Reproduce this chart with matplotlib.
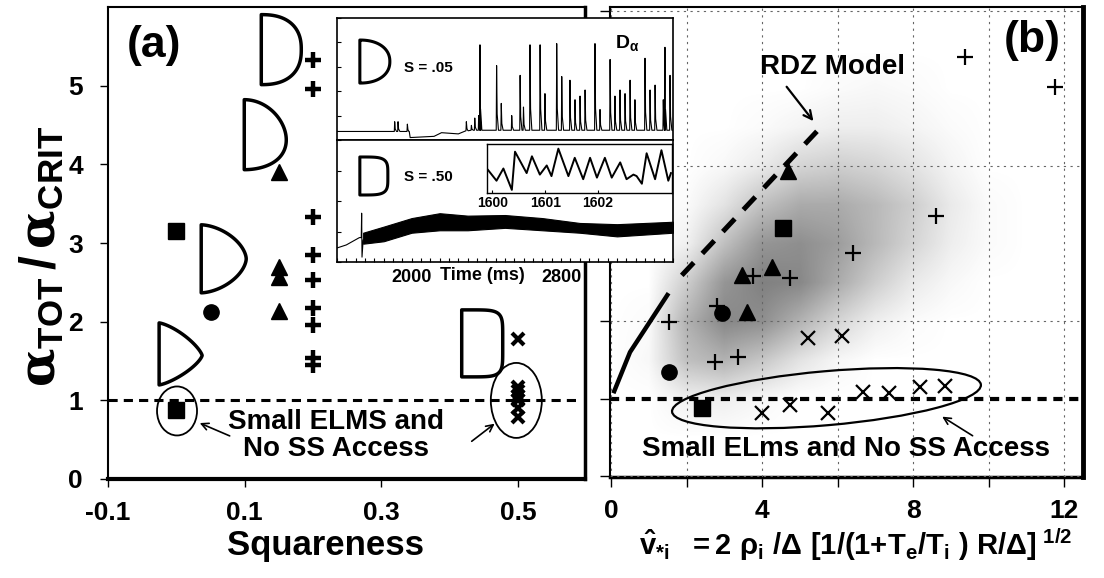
import numpy as np
import matplotlib
matplotlib.use('Agg')
import matplotlib.pyplot as plt
from matplotlib.patches import Ellipse, Polygon
from matplotlib.transforms import ScaledTranslation
from matplotlib.colors import LinearSegmentedColormap
from matplotlib.ticker import MultipleLocator, NullFormatter

plt.rcParams['font.family'] = ['Liberation Sans', 'DejaVu Sans']
plt.rcParams['font.weight'] = 'bold'
plt.rcParams['axes.unicode_minus'] = False
plt.rcParams['mathtext.fontset'] = 'custom'
plt.rcParams['mathtext.rm'] = 'Liberation Sans:bold'
plt.rcParams['mathtext.it'] = 'Liberation Sans:bold'
plt.rcParams['mathtext.bf'] = 'Liberation Sans:bold'
plt.rcParams['mathtext.sf'] = 'Liberation Sans:bold'
plt.rcParams['mathtext.tt'] = 'DejaVu Serif'

# ---------------- data: panel (a) ----------------
a_plus_x = [0.20] * 9
a_plus_y = [5.33, 4.96, 3.33, 2.85, 2.53, 2.17, 1.96, 1.54, 1.45]
a_tri_x = [0.15] * 4
a_tri_y = [3.90, 2.70, 2.57, 2.13]
a_sq_x = [0.0, 0.0]
a_sq_y = [3.15, 0.88]
a_circ_x = [0.05]
a_circ_y = [2.12]
a_x_x = [0.50] * 7
a_x_y = [1.78, 1.17, 1.12, 1.06, 1.00, 0.90, 0.79]
a_xticks = [-0.1, 0.1, 0.3, 0.5]
a_xticklabels = ['-0.1', '0.1', '0.3', '0.5']
a_yticks = [0, 1, 2, 3, 4, 5]

# ---------------- data: panel (b) ----------------
b_plus_x = [9.37, 11.75, 8.60, 6.40, 3.76, 4.74, 2.80, 1.53, 2.75, 3.36]
b_plus_y = [5.40, 5.02, 3.35, 2.88, 2.58, 2.55, 2.20, 1.99, 1.47, 1.54]
b_tri_x = [4.68, 4.26, 3.47, 3.60]
b_tri_y = [3.93, 2.70, 2.59, 2.12]
b_sq_x = [4.55, 2.40]
b_sq_y = [3.20, 0.88]
b_circ_x = [2.94, 1.53]
b_circ_y = [2.10, 1.34]
b_x_x = [5.20, 6.10, 4.00, 4.74, 5.74, 6.67, 7.35, 8.17, 8.84]
b_x_y = [1.78, 1.81, 0.81, 0.92, 0.81, 1.08, 1.07, 1.15, 1.16]
rdz_solid_x = [0.06, 0.50, 1.52]
rdz_solid_y = [1.07, 1.60, 2.36]
rdz_dash_x = [1.87, 5.53]
rdz_dash_y = [2.59, 4.49]
b_xticks = [0, 4, 8, 12]

# gray database cloud: density read on a grid (x = 0..11, y = 0.5..5.5)
cloud_x = [0, 1, 2, 3, 4, 5, 6, 7, 8, 9, 10, 11]
cloud_y = [0.5, 1.0, 1.5, 2.0, 2.5, 3.0, 3.5, 4.0, 4.5, 5.0, 5.5]
cloud = np.array([
    [0, 0.00, 0.00, 0.00, 0.00, 0.00, 0.00, 0.00, 0.00, 0.00, 0.00, 0],
    [0, 0.00, 0.10, 0.12, 0.05, 0.00, 0.00, 0.00, 0.00, 0.00, 0.00, 0],
    [0, 0.05, 0.45, 0.55, 0.40, 0.20, 0.06, 0.00, 0.00, 0.00, 0.00, 0],
    [0, 0.03, 0.55, 0.85, 0.80, 0.55, 0.30, 0.12, 0.03, 0.00, 0.00, 0],
    [0, 0.00, 0.35, 0.75, 0.90, 0.85, 0.60, 0.35, 0.15, 0.05, 0.00, 0],
    [0, 0.00, 0.10, 0.45, 0.75, 0.80, 0.70, 0.50, 0.30, 0.12, 0.03, 0],
    [0, 0.00, 0.03, 0.20, 0.45, 0.60, 0.60, 0.50, 0.35, 0.15, 0.03, 0],
    [0, 0.00, 0.00, 0.05, 0.15, 0.30, 0.35, 0.30, 0.20, 0.08, 0.00, 0],
    [0, 0.00, 0.00, 0.00, 0.03, 0.08, 0.12, 0.12, 0.08, 0.03, 0.00, 0],
    [0, 0.00, 0.00, 0.00, 0.00, 0.00, 0.03, 0.05, 0.03, 0.00, 0.00, 0],
    [0, 0.00, 0.00, 0.00, 0.00, 0.00, 0.00, 0.00, 0.00, 0.00, 0.00, 0],
])

# ---------------- data: inset D-alpha traces ----------------
elm_t = [1909, 1927, 1977, 2293, 2320, 2338, 2359, 2366, 2455, 2480, 2536, 2581,
         2599, 2634, 2688, 2714, 2777, 2804, 2848, 2875, 2902, 2929, 2982, 3009,
         3063, 3089, 3116, 3143, 3170, 3196, 3250, 3277, 3304, 3348, 3357, 3384]
elm_h = [0.15, 0.15, 0.13, 0.15, 0.12, 0.18, 0.20, 0.78, 0.61, 0.30, 0.20, 0.53,
         0.27, 0.78, 0.78, 0.38, 0.79, 0.52, 0.49, 0.33, 0.36, 0.41, 0.79, 0.25,
         0.66, 0.36, 0.41, 0.38, 0.49, 0.33, 0.67, 0.41, 0.45, 0.33, 0.76, 0.53]
base_t = [1600, 1985, 1992, 2120, 2160, 2250, 2300, 2400, 3400]
base_v = [0.07, 0.07, 0.02, 0.03, 0.06, 0.05, 0.08, 0.08, 0.08]

band_t = [1740, 1850, 2000, 2150, 2300, 2500, 2700, 2900, 3100, 3400]
band_hi = [0.24, 0.29, 0.36, 0.40, 0.38, 0.385, 0.36, 0.32, 0.31, 0.33]
band_lo = [0.15, 0.17, 0.24, 0.26, 0.26, 0.28, 0.26, 0.24, 0.21, 0.24]
pre_t = [1600, 1650, 1720, 1730, 1732, 1734, 1740]
pre_v = [0.115, 0.14, 0.20, 0.20, 0.40, 0.04, 0.18]

nest_t = [1599.92, 1600.08, 1600.21, 1600.37, 1600.43, 1600.65, 1600.75, 1600.90,
          1601.03, 1601.12, 1601.25, 1601.44, 1601.56, 1601.72, 1601.85, 1601.98,
          1602.13, 1602.26, 1602.42, 1602.54, 1602.67, 1602.73, 1602.83, 1602.92,
          1603.08, 1603.20, 1603.33, 1603.38]
nest_v = [0.466, 0.226, 0.50, 0.02, 0.877, 0.397, 0.774, 0.363, 0.568, 0.329,
          0.945, 0.329, 0.74, 0.26, 0.74, 0.295, 0.74, 0.295, 0.637, 0.26,
          0.363, 0.33, 0.158, 0.842, 0.26, 0.91, 0.226, 0.397]

# ---------------- figure ----------------
W, H = 1104, 578
fig = plt.figure(figsize=(W / 100, H / 100), dpi=100)
fig.patch.set_facecolor('white')

def fax(l, t, r, b, **kw):
    return fig.add_axes([l / W, 1 - b / H, (r - l) / W, (b - t) / H], **kw)

axA = fax(108, 7, 585, 479)
axB = fax(610, 7, 1083, 477)

def d_shape(ax, anchor, w, h, n, tri=0.0, lw=2.5, trans=None):
    th = np.linspace(np.pi / 2, -np.pi / 2, 120)
    c, s = np.cos(th), np.sin(th)
    x = w * np.abs(c) ** (2.0 / n)
    y = 0.5 * h * np.sign(s) * np.abs(s) ** (2.0 / n)
    y = y - tri * 0.5 * h * (x / w) ** 2
    pts = np.column_stack([x, y]) / 100.0
    base = trans if trans is not None else ax.transData
    tr = fig.dpi_scale_trans + ScaledTranslation(anchor[0], anchor[1], base)
    ax.add_patch(Polygon(pts, closed=True, fill=False, lw=lw, ec='k',
                         transform=tr, joinstyle='round', clip_on=False, zorder=4))

def ellipse(ax, center, w, h, angle=0.0, lw=1.3):
    tr = fig.dpi_scale_trans + ScaledTranslation(center[0], center[1], ax.transData)
    ax.add_patch(Ellipse((0, 0), w / 100, h / 100, angle=angle, fill=False,
                         lw=lw, ec='k', transform=tr, zorder=4))

# ---------------- panel (a) ----------------
axA.set_xlim(-0.1, 0.598)
axA.set_ylim(0, 6.0)
axA.axhline(1.0, xmin=0, xmax=0.985, color='k', lw=2.2, ls=(0, (3, 2)), zorder=2)
axA.plot(a_plus_x, a_plus_y, ls='none', marker='+', ms=11, mew=3.2, color='k', zorder=5)
axA.plot(a_tri_x, a_tri_y, ls='none', marker='^', ms=11, color='k', zorder=5)
axA.plot(a_sq_x, a_sq_y, ls='none', marker='s', ms=11, color='k', zorder=5)
axA.plot(a_circ_x, a_circ_y, ls='none', marker='o', ms=11, color='k', zorder=5)
axA.plot(a_x_x, a_x_y, ls='none', marker='x', ms=9, mew=3.0, color='k', zorder=5)

for anc, w, h, n, tri in [((0.1243, 5.458), 40, 70, 2.4, 0.0),
                          ((0.0994, 4.377), 42, 70, 2.0, 0.15),
                          ((0.0364, 2.799), 45, 68, 1.7, 0.0),
                          ((-0.0252, 1.590), 43, 62, 1.35, 0.05),
                          ((0.4176, 1.724), 41, 67, 6.0, 0.0)]:
    d_shape(axA, anc, w, h, n, tri)

ellipse(axA, (0.001, 0.865), 40, 49)
ellipse(axA, (0.4975, 0.999), 51, 75)
axA.annotate('', xy=(0.0305, 0.725), xytext=(0.0818, 0.534),
             arrowprops=dict(arrowstyle='->,head_length=0.5,head_width=0.25', lw=1.2, color='k'))
axA.annotate('', xy=(0.469, 0.725), xytext=(0.429, 0.458),
             arrowprops=dict(arrowstyle='->,head_length=0.5,head_width=0.25', lw=1.2, color='k'))
axA.text(0.234, 0.547, 'Small ELMS and\nNo SS Access', ha='center', va='center',
         fontsize=20, fontweight='bold', linespacing=1.05, zorder=6)
axA.text(0.096, 0.919, '(a)', transform=axA.transAxes, ha='center', va='center',
         fontsize=32, fontweight='bold')

axA.set_xticks(a_xticks)
axA.set_xticklabels(a_xticklabels)
axA.set_yticks(a_yticks)
axA.tick_params(direction='out', length=6, width=1, labelsize=19)
axA.tick_params(axis='x', pad=10)
axA.tick_params(axis='y', pad=12)
for lab in axA.get_xticklabels() + axA.get_yticklabels():
    lab.set_fontweight('bold')
for sp, lw in [('left', 1.5), ('top', 1.5), ('bottom', 3.0), ('right', 2.5)]:
    axA.spines[sp].set_linewidth(lw)

fig.text(326 / W, 1 - 545 / H, 'Squareness', ha='center', va='center',
         fontsize=25, fontweight='bold')
fig.text(42 / W, 1 - 256 / H,
         r'$\mathtt{\alpha}_{\mathrm{TOT}}\,/\,\mathtt{\alpha}_{\mathrm{CRIT}}$',
         rotation=90, ha='center', va='center', fontsize=36)

# ---------------- panel (b) ----------------
cmap = LinearSegmentedColormap.from_list('cloud', ['white', '0.45'])
axB.imshow(cloud, extent=[cloud_x[0] - 0.5, cloud_x[-1] + 0.5, cloud_y[0] - 0.25, cloud_y[-1] + 0.25],
           origin='lower', cmap=cmap, vmin=0, vmax=1, interpolation='bilinear',
           aspect='auto', zorder=0.5)
axB.set_xlim(-0.03, 12.49)
axB.set_ylim(-0.01, 6.05)
axB.set_xticks(b_xticks)
axB.xaxis.set_minor_locator(MultipleLocator(2))
axB.set_yticks([0, 2, 4, 6])
axB.yaxis.set_minor_locator(MultipleLocator(1))
axB.set_yticklabels([])
axB.grid(True, which='both', axis='x', color='0.4', lw=0.8, ls=(0, (2, 4)))
axB.grid(True, which='major', axis='y', color='0.4', lw=0.8, ls=(0, (2, 4)))
axB.set_axisbelow(False)
axB.tick_params(which='both', direction='out', length=7, width=1, labelsize=19, pad=9)
for lab in axB.get_xticklabels():
    lab.set_fontweight('bold')
for sp, lw in [('left', 1.5), ('top', 1.5), ('bottom', 2.5), ('right', 3.5)]:
    axB.spines[sp].set_linewidth(lw)

axB.axhline(1.0, color='k', lw=3.0, ls=(0, (2.2, 1.6)), zorder=2)
axB.plot(rdz_solid_x, rdz_solid_y, color='k', lw=3.2, solid_capstyle='butt', zorder=3)
axB.plot(rdz_dash_x, rdz_dash_y, color='k', lw=3.6, ls=(0, (3.5, 2.5)), zorder=3)
axB.plot(b_plus_x, b_plus_y, ls='none', marker='+', ms=12, mew=1.6, color='k', zorder=5)
axB.plot(b_tri_x, b_tri_y, ls='none', marker='^', ms=12, color='k', zorder=5)
axB.plot(b_sq_x, b_sq_y, ls='none', marker='s', ms=11, color='k', zorder=5)
axB.plot(b_circ_x, b_circ_y, ls='none', marker='o', ms=11, color='k', zorder=5)
axB.plot(b_x_x, b_x_y, ls='none', marker='x', ms=10, mew=1.6, color='k', zorder=5)

ellipse(axB, (5.70, 1.006), 310, 54, angle=5.0, lw=1.6)
axB.annotate('', xy=(8.70, 0.787), xytext=(9.63, 0.503),
             arrowprops=dict(arrowstyle='->,head_length=0.5,head_width=0.25', lw=1.2, color='k'))
axB.annotate('', xy=(5.40, 4.55), xytext=(4.60, 5.05),
             arrowprops=dict(arrowstyle='->,head_length=0.6,head_width=0.3', lw=1.6, color='k'))
axB.text(5.87, 5.28, 'RDZ Model', ha='center', va='center', fontsize=20, fontweight='bold')
axB.text(6.23, 0.348, 'Small ELms and No SS Access', ha='center', va='center',
         fontsize=20, fontweight='bold', zorder=6)
axB.text(0.892, 0.928, '(b)', transform=axB.transAxes, ha='center', va='center',
         fontsize=32, fontweight='bold')
fig.text(856 / W, 1 - 545 / H,
         r'$\hat{\mathrm{v}}_{*\mathrm{i}}\ \ =2\ \rho_{\mathrm{i}}\ /\Delta\ [1/(1$+$\mathrm{T}_{\mathrm{e}}/\mathrm{T}_{\mathrm{i}}\ )\ \mathrm{R}/\Delta]^{\ 1/2}$',
         ha='center', va='center', fontsize=21)

# ---------------- inset ----------------
inT = fax(337, 18, 673, 140, zorder=10)
inB = fax(337, 140, 673, 262, zorder=10)
inN = fax(487, 144, 672, 193, zorder=11)

# top trace (S = .05)
pts = [(t, v) for t, v in zip(base_t, base_v)]
for t, h in zip(elm_t, elm_h):
    b0 = float(np.interp(t, base_t, base_v))
    pts += [(t - 2, b0), (t, h), (t + 3, b0 + 0.25 * (h - b0)), (t + 10, b0)]
pts.sort()
tt, vv = zip(*pts)
inT.plot(tt, vv, color='k', lw=0.8)
inT.set_xlim(1600, 3400)
inT.set_ylim(0, 1)
inT.set_xticks([])
inT.yaxis.set_major_locator(MultipleLocator(0.2))
inT.yaxis.set_major_formatter(NullFormatter())
inT.tick_params(axis='y', direction='in', length=3, width=0.8)
inT.text(0.863, 0.795, r'D$_{\alpha}$', transform=inT.transAxes, ha='center', va='center',
         fontsize=14, fontweight='bold')
inT.text(0.271, 0.59, 'S = .05', transform=inT.transAxes, ha='center', va='center',
         fontsize=11, fontweight='bold')
d_shape(inT, (0.068, 0.643), 30, 43, 2.2, 0.0, lw=2.2, trans=inT.transAxes)

# bottom trace (S = .50)
inB.plot(pre_t, pre_v, color='k', lw=0.8)
inB.fill_between(band_t, band_lo, band_hi, color='k', lw=0.8)
inB.set_xlim(1600, 3400)
inB.set_ylim(0, 1)
inB.set_xticks([2000, 2800])
inB.set_xticklabels(['2000', '2800'])
inB.xaxis.set_minor_locator(MultipleLocator(50))
inB.yaxis.set_major_locator(MultipleLocator(0.25))
inB.yaxis.set_major_formatter(NullFormatter())
inB.tick_params(axis='both', which='both', direction='in', length=3, width=0.8)
inB.tick_params(axis='x', labelsize=13, pad=5)
for lab in inB.get_xticklabels():
    lab.set_fontweight('bold')
inB.text(0.271, 0.697, 'S = .50', transform=inB.transAxes, ha='center', va='center',
         fontsize=11, fontweight='bold')
d_shape(inB, (0.068, 0.705), 28, 38, 4.5, 0.0, lw=2.2, trans=inB.transAxes)
fig.text(482 / W, 1 - 276 / H, 'Time (ms)', ha='center', va='center',
         fontsize=13, fontweight='bold')
for ax in (inT, inB):
    for sp in ax.spines.values():
        sp.set_linewidth(1.2)

# nested zoom trace
inN.plot(nest_t, nest_v, color='k', lw=1.4)
inN.set_xlim(1599.9, 1603.4)
inN.set_ylim(-0.05, 1.05)
inN.set_xticks([1600, 1601, 1602])
inN.set_xticklabels(['1600', '1601', '1602'])
inN.set_yticks([])
inN.tick_params(axis='x', direction='in', length=2, labelsize=10, pad=2)
for lab in inN.get_xticklabels():
    lab.set_fontweight('bold')
for sp in inN.spines.values():
    sp.set_linewidth(1.0)

fig.savefig('out.png', dpi=100, facecolor='white')
